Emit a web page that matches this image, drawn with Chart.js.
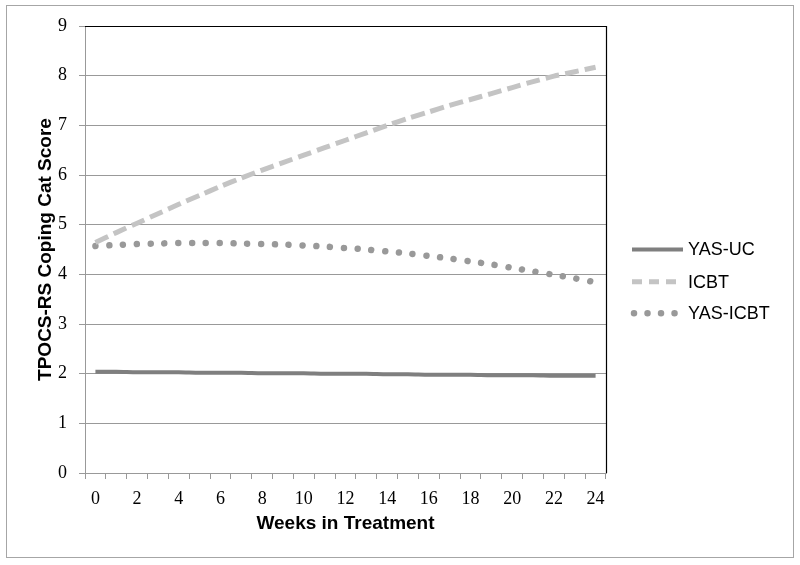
<!DOCTYPE html>
<html>
<head>
<meta charset="utf-8">
<script src="https://cdn.jsdelivr.net/npm/chart.js@4/dist/chart.umd.min.js"></script>
<style>
html,body{margin:0;padding:0;background:#fff;}
#wrap{width:800px;height:565px;}
</style>
</head>
<body>
<div id="wrap"><canvas id="c" width="800" height="565"></canvas></div>
<script>
const weeks = [0,1,2,3,4,5,6,7,8,9,10,11,12,13,14,15,16,17,18,19,20,21,22,23,24];
const yasUC = [2.04,2.04,2.03,2.03,2.03,2.02,2.02,2.02,2.01,2.01,2.01,2.00,2.00,2.00,1.99,1.99,1.98,1.98,1.98,1.97,1.97,1.97,1.96,1.96,1.96];
const icbt = [4.64,4.84,5.03,5.22,5.41,5.59,5.77,5.94,6.10,6.25,6.40,6.55,6.70,6.85,7.00,7.14,7.27,7.40,7.52,7.64,7.76,7.88,7.99,8.08,8.17];
const yasICBT = [4.57,4.59,4.61,4.62,4.63,4.63,4.63,4.62,4.61,4.60,4.58,4.56,4.53,4.50,4.46,4.42,4.37,4.32,4.26,4.20,4.13,4.06,3.99,3.92,3.84];
const seriesNames = ['YAS-UC','ICBT','YAS-ICBT'];
const yTitle = 'TPOCS-RS Coping Cat Score';
const xTitle = 'Weeks in Treatment';

const frame = {
  id: 'frame',
  beforeDraw(chart) {
    const ctx = chart.ctx;
    ctx.save();
    ctx.fillStyle = '#fff';
    ctx.fillRect(0, 0, chart.width, chart.height);
    ctx.strokeStyle = '#a6a6a6';
    ctx.lineWidth = 1;
    ctx.strokeRect(6.5, 5.5, 787, 552);
    ctx.restore();
  },
  afterDraw(chart) {
    const ctx = chart.ctx;
    const a = chart.chartArea;
    ctx.save();
    ctx.strokeStyle = '#000';
    ctx.lineWidth = 1.2;
    ctx.beginPath();
    ctx.moveTo(a.left, a.top + 0.5);
    ctx.lineTo(a.right + 0.5, a.top + 0.5);
    ctx.lineTo(a.right + 0.5, a.bottom);
    ctx.stroke();
    // legend
    const ys = [249.5, 281.7, 313.3];
    chart.data.datasets.forEach((ds, i) => {
      const y = ys[i];
      ctx.save();
      ctx.strokeStyle = ds.borderColor;
      ctx.lineWidth = ds.borderWidth;
      ctx.lineCap = ds.borderCapStyle || 'butt';
      ctx.setLineDash(ds.legendDash || []);
      ctx.beginPath();
      if (i === 2) {
        ctx.moveTo(634, y); ctx.lineTo(680, y);
      } else {
        ctx.moveTo(632, y); ctx.lineTo(683, y);
      }
      ctx.stroke();
      ctx.restore();
      ctx.fillStyle = '#000';
      ctx.font = '18px "Liberation Sans", Arial, sans-serif';
      ctx.textBaseline = 'middle';
      ctx.textAlign = 'left';
      ctx.fillText(ds.label, 688, y + 1);
    });
    ctx.restore();
  }
};

new Chart(document.getElementById('c'), {
  type: 'line',
  data: {
    labels: weeks,
    datasets: [
      {label: seriesNames[0], data: yasUC, borderColor: '#7f7f7f', borderWidth: 4, pointRadius: 0, tension: 0.3, borderCapStyle: 'butt', legendDash: []},
      {label: seriesNames[1], data: icbt, borderColor: '#c4c4c4', borderWidth: 5, pointRadius: 0, tension: 0.3, borderDash: [14, 6], borderCapStyle: 'butt', legendDash: [10, 7]},
      {label: seriesNames[2], data: yasICBT, borderColor: '#999999', borderWidth: 6.5, pointRadius: 0, tension: 0.3, borderDash: [0.01, 13.8], borderCapStyle: 'round', legendDash: [0.01, 13.5]}
    ]
  },
  options: {
    responsive: false,
    animation: false,
    devicePixelRatio: 1,
    layout: {padding: {left: 0, right: 194, top: 26, bottom: 0}},
    plugins: {legend: {display: false}, tooltip: {enabled: false}},
    scales: {
      x: {
        type: 'category',
        offset: true,
        grid: {offset: true, drawOnChartArea: false, drawTicks: true, tickLength: 6, color: '#999', lineWidth: 1},
        border: {display: true, color: '#999', width: 1},
        ticks: {
          autoSkip: false, maxRotation: 0, minRotation: 0, padding: 9,
          color: '#000',
          font: {family: '"Liberation Serif", "Times New Roman", serif', size: 18},
          callback: function(v, i) { return i % 2 === 0 ? String(weeks[i]) : ''; }
        },
        title: {display: true, text: xTitle, color: '#000', font: {family: '"Liberation Sans", Arial, sans-serif', size: 19, weight: 'bold'}, padding: {top: 0, bottom: 30}},
        afterFit: function(s) { s.height = 92; }
      },
      y: {
        min: 0, max: 9,
        ticks: {stepSize: 1, padding: 12, color: '#000', font: {family: '"Liberation Serif", "Times New Roman", serif', size: 18}},
        grid: {color: '#999', lineWidth: 1, tickLength: 6},
        border: {display: true, color: '#999', width: 1},
        title: {display: true, text: yTitle, color: '#000', font: {family: '"Liberation Sans", Arial, sans-serif', size: 19, weight: 'bold'}, padding: {top: 34, bottom: 0}},
        afterFit: function(s) { s.width = 85; }
      }
    }
  },
  plugins: [frame]
});
</script>
</body>
</html>
